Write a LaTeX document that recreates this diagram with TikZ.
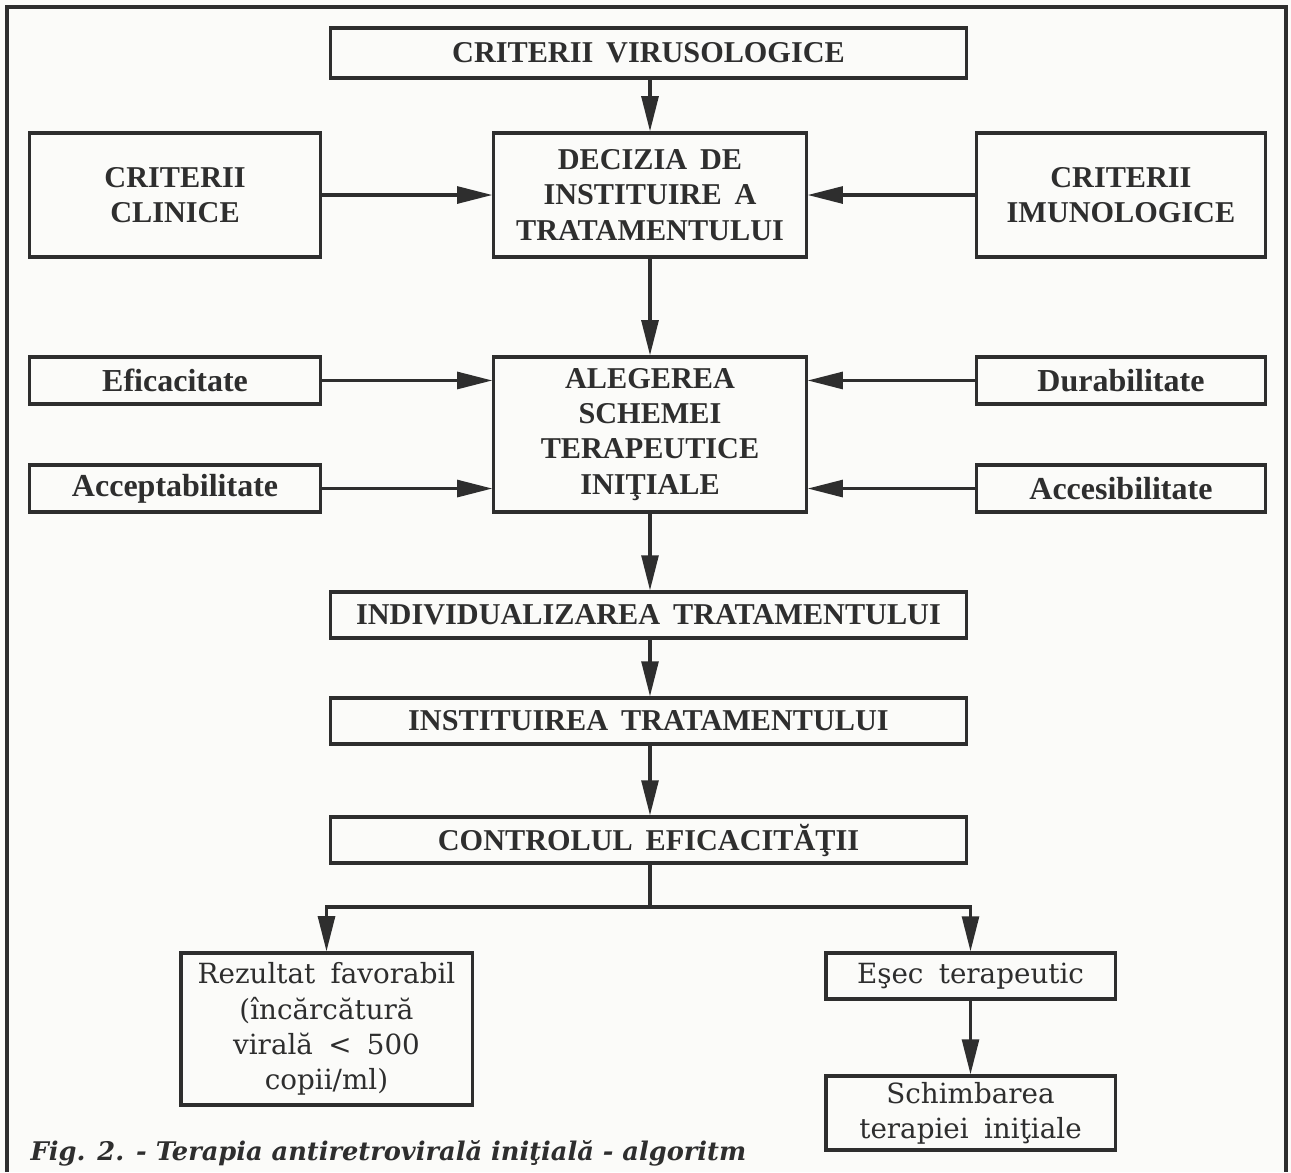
\documentclass[tikz,border=0pt]{standalone}
\usepackage{fontspec}
\setmainfont{Liberation Serif}
\newfontfamily\capsfont{Liberation Serif}[WordSpace=1.7]
\newfontfamily\schfont{DejaVu Serif}
\usepackage{tikz}
\usetikzlibrary{positioning, arrows.meta}
\definecolor{ink}{HTML}{2e2e2e}
\definecolor{paper}{HTML}{fbfbf9}

\begin{document}
\begin{tikzpicture}[x=0.01cm, y=-0.01cm, crit/.style={draw=ink, line width=0.9pt, inner sep=0pt, align=center, text=ink, font=\capsfont\fontsize{8.6}{10}\selectfont\bfseries},fact/.style={crit, font=\capsfont\fontsize{9.1}{10}\selectfont\bfseries},outc/.style={crit, font={\schfont\fontsize{7.9}{10}\selectfont\spaceskip=0.55em\relax}},arr/.style={draw=ink, line width=0.9pt, -{Triangle[length=10pt, width=4.8pt]}}]
\fill[paper] (0,0) rectangle (1291,1172); \useasboundingbox (0,0) rectangle (1291,1172);
\draw[ink, line width=0.9pt] (7,1172) -- (7,7) -- (1286,7) -- (1286,1172);
\node[crit, minimum width=6.35cm, minimum height=0.50cm] (virus) at (648.5,53) {CRITERII VIRUSOLOGICE};
\node[crit, minimum width=3.12cm, minimum height=1.24cm] (dec) at (650,195) {DECIZIA DE\\INSTITUIRE A\\TRATAMENTULUI};
\node[crit, minimum width=2.91cm, minimum height=1.24cm, left=1.70cm of dec] (clin) {CRITERII\\CLINICE};
\node[crit, minimum width=2.89cm, minimum height=1.24cm, right=1.67cm of dec] (imuno) {CRITERII\\IMUNOLOGICE};
\node[crit, minimum width=3.12cm, minimum height=1.55cm] (aleg) at (650,434.5) {ALEGEREA\\SCHEMEI\\TERAPEUTICE\\INIŢIALE};
\node[fact, minimum width=2.91cm, minimum height=0.47cm, left=1.70cm of aleg.north west, anchor=north east] (efic) {Eficacitate};
\node[fact, minimum width=2.91cm, minimum height=0.47cm, left=1.70cm of aleg.south west, anchor=south east] (accept) {Acceptabilitate};
\node[fact, minimum width=2.89cm, minimum height=0.47cm, right=1.67cm of aleg.north east, anchor=north west] (durab) {Durabilitate};
\node[fact, minimum width=2.89cm, minimum height=0.47cm, right=1.67cm of aleg.south east, anchor=south west] (acces) {Accesibilitate};
\node[crit, minimum width=6.35cm, minimum height=0.46cm] (indiv) at (648.5,615) {INDIVIDUALIZAREA TRATAMENTULUI};
\node[crit, minimum width=6.35cm, minimum height=0.46cm] (instit) at (648.5,721) {INSTITUIREA TRATAMENTULUI};
\node[crit, minimum width=6.35cm, minimum height=0.46cm] (contr) at (648.5,840) {CONTROLUL EFICACITĂŢII};
\coordinate (split) at (650,907);
\node[outc, minimum width=2.91cm, minimum height=1.52cm] (rez) at (326.5,1029) {Rezultat favorabil\\(încărcătură\\virală < 500\\copii/ml)};
\node[outc, minimum width=2.89cm, minimum height=0.46cm] (esec) at (970.5,976) {Eşec terapeutic};
\node[outc, minimum width=2.89cm, minimum height=0.74cm] (schimb) at (970.5,1113) {Schimbarea\\terapiei iniţiale};
\node[anchor=base west, inner sep=0pt, text=ink, font=\schfont\fontsize{7.3}{10}\selectfont\bfseries\itshape] (capt) at (30,1160) {Fig. 2. - Terapia antiretrovirală iniţială - algoritm};
\draw[arr] (virus.south -| dec.north) -- (dec.north);
\draw[arr] (clin) -- (dec);
\draw[arr] (imuno) -- (dec);
\draw[arr] (dec) -- (aleg);
\draw[arr] (efic) -- (efic -| aleg.west);
\draw[arr] (accept) -- (accept -| aleg.west);
\draw[arr] (durab) -- (durab -| aleg.east);
\draw[arr] (acces) -- (acces -| aleg.east);
\draw[arr] (aleg) -- (indiv.north -| aleg.south);
\draw[arr] (indiv.south -| aleg.south) -- (instit.north -| aleg.south);
\draw[arr] (instit.south -| aleg.south) -- (contr.north -| aleg.south);
\draw[ink, line width=0.9pt] (contr.south -| split) -- (split);
\draw[arr] (split) -| (rez.north);
\draw[arr] (split) -| (esec.north);
\draw[arr] (esec) -- (schimb);
\end{tikzpicture}
\end{document}
